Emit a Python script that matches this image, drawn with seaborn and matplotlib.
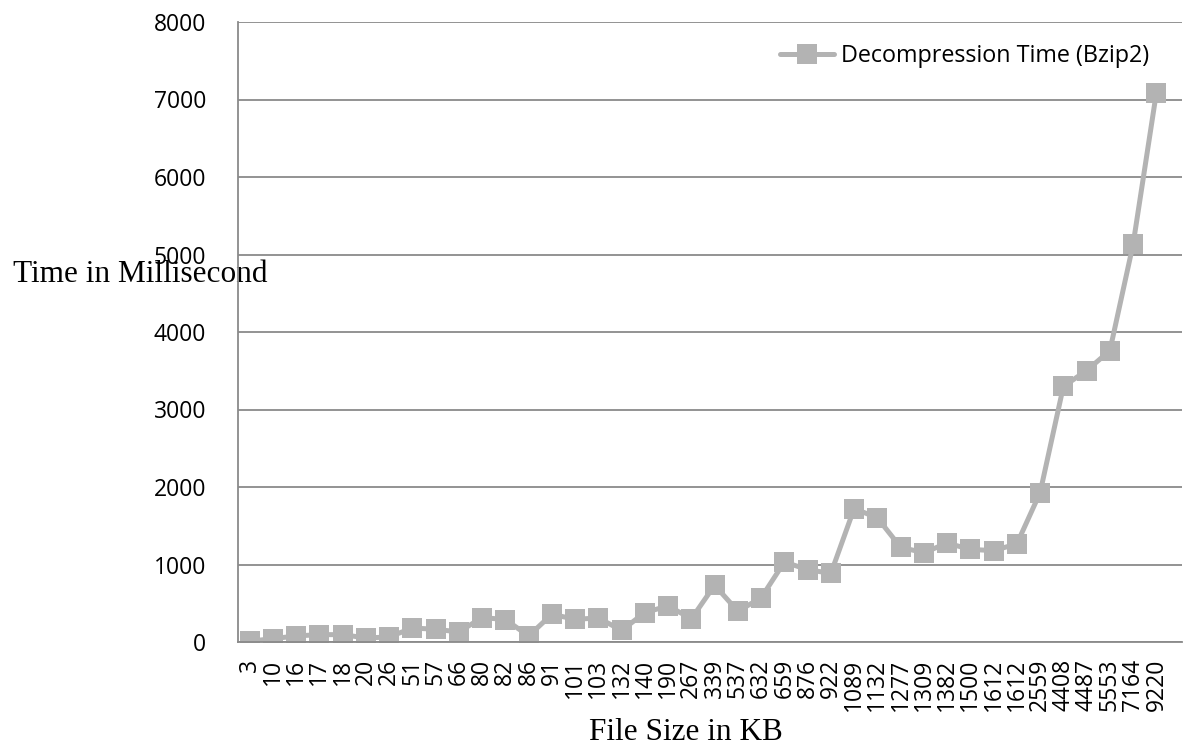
import matplotlib
matplotlib.use("Agg")
import matplotlib.pyplot as plt
import seaborn as sns
import numpy as np
import pandas as pd

# File sizes (KB) and bzip2 decompression times (ms)
file_sizes = ["3", "10", "16", "17", "18", "20", "26", "51", "57", "66",
              "80", "82", "86", "91", "101", "103", "132", "140", "190", "267",
              "339", "537", "632", "659", "876", "922", "1089", "1132", "1277", "1309",
              "1382", "1500", "1612", "1612", "2559", "4408", "4487", "5553", "7164", "9220"]
decompression_ms = [10, 43, 78, 95, 95, 52, 65, 181, 164, 130,
                    315, 290, 78, 358, 293, 310, 150, 380, 466, 299,
                    733, 397, 570, 1032, 934, 885, 1722, 1602, 1222, 1152,
                    1276, 1195, 1179, 1266, 1928, 3297, 3503, 3759, 5133, 7088]
y_ticks = [0, 1000, 2000, 3000, 4000, 5000, 6000, 7000, 8000]
series_name = "Decompression Time (Bzip2)"

df = pd.DataFrame({"pos": np.arange(len(file_sizes)), "time": decompression_ms})

sns.set_style("white")
plt.rcParams["font.family"] = ["Open Sans", "DejaVu Sans"]
plt.rcParams["text.color"] = "black"
plt.rcParams["xtick.color"] = "black"
plt.rcParams["ytick.color"] = "black"
plt.rcParams["axes.labelcolor"] = "black"

W, H = 1186, 748
fig = plt.figure(figsize=(W / 100, H / 100), dpi=100)
ax = fig.add_axes([238 / W, (H - 642) / H, (1182 - 238) / W, 620 / H])

grey = "#b3b3b3"
axis_grey = "#8a8a8a"

sns.lineplot(data=df, x="pos", y="time", ax=ax, color=grey, linewidth=3.6,
             marker="s", markersize=14, markeredgewidth=0, label=series_name)

# Category axis: labels at centres, tick marks on boundaries
n = len(file_sizes)
step = (1168 - 238) / n
ax.set_xlim(-0.5, -0.5 + (1182 - 238) / step)
ax.set_xticks(np.arange(n))
ax.set_xticklabels(file_sizes, rotation=90, fontsize=16.5)
ax.set_xticks(np.arange(n + 1) - 0.5, minor=True)
ax.tick_params(axis="x", which="major", length=0, pad=12)
ax.tick_params(axis="x", which="minor", length=8, width=1.3, color=axis_grey, direction="out")

ax.set_ylim(0, 8000)
ax.set_yticks(y_ticks)
ax.set_yticklabels([str(v) for v in y_ticks], fontsize=16.5)
ax.tick_params(axis="y", length=8, width=1.3, color=axis_grey, direction="out", pad=15)

ax.yaxis.grid(True, color=axis_grey, linewidth=1.3)
ax.xaxis.grid(False)
ax.set_axisbelow(True)

for side in ("top", "right"):
    ax.spines[side].set_visible(False)
for side in ("left", "bottom"):
    ax.spines[side].set_color(axis_grey)
    ax.spines[side].set_linewidth(1.3)

serif = ["Liberation Serif", "DejaVu Serif"]
ax.set_xlabel("File Size in KB", family=serif, fontsize=22.5, va="center")
ax.xaxis.set_label_coords((686 - 238) / (1182 - 238), (642 - 733) / 620)
ax.set_ylabel("Time in Millisecond", family=serif, fontsize=22.5, rotation=0,
              ha="center", va="center")
ax.yaxis.set_label_coords((140 - 238) / (1182 - 238), (642 - 274) / 620)

ax.legend(loc="center left", frameon=False, fontsize=16.8,
          bbox_to_anchor=((780 - 238) / (1182 - 238), (642 - 56) / 620),
          borderaxespad=0, borderpad=0, handlelength=2.3, handletextpad=0.3)

fig.savefig("out.png", dpi=100)
